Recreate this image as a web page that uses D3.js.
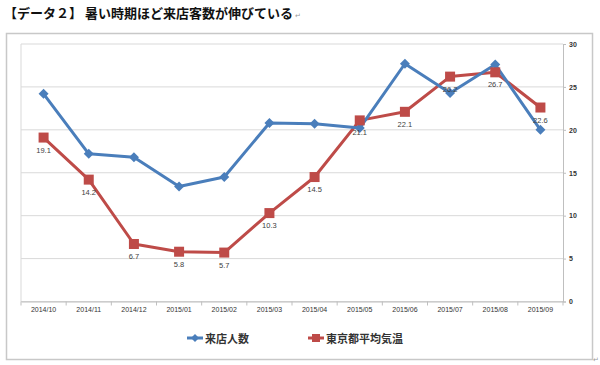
<!DOCTYPE html>
<html><head><meta charset="utf-8">
<script src="https://cdn.jsdelivr.net/npm/d3@7"></script>
<style>body{margin:0;background:#fff;}svg{display:block;}</style>
</head><body>
<svg id="c" width="600" height="365"></svg>
<script>
const title = "【データ２】 暑い時期ほど来店客数が伸びている";
const categories = ["2014/10","2014/11","2014/12","2015/01","2015/02","2015/03","2015/04","2015/05","2015/06","2015/07","2015/08","2015/09"];
const visitors = [24.2,17.2,16.8,13.4,14.5,20.8,20.7,20.2,27.7,24.3,27.6,20.0];
const temperature = [19.1,14.2,6.7,5.8,5.7,10.3,14.5,21.1,22.1,26.2,26.7,22.6];
const yTicks = [0,5,10,15,20,25,30];
const seriesNames = ["来店人数","東京都平均気温"];

const svg = d3.select("#c");
const font = "'Noto Sans CJK JP','Noto Sans',sans-serif";
const blue = "#4A7EBB", red = "#BE4B48";

// title
const tt = svg.append("text").attr("x",4).attr("y",18).attr("font-family",font).attr("font-weight","bold")
  .attr("font-size",13).attr("fill","#111").text(title);
const tw = tt.node().getComputedTextLength();
svg.append("text").attr("x",4+tw+2).attr("y",18).attr("font-family",font).attr("font-size",7).attr("fill","#999").text("↵");

// frame
svg.append("rect").attr("x",6.5).attr("y",33.5).attr("width",586).attr("height",326)
  .attr("fill","#fff").attr("stroke","#c8c8c8").attr("stroke-width",1.5);
svg.append("text").attr("x",593).attr("y",362).attr("font-family",font).attr("font-size",7).attr("fill","#999").text("↵");

const L=21, R=563, T=44, B=301.5;
const x = d3.scaleBand().domain(categories).range([L,R]);
const y = d3.scaleLinear().domain([0,30]).range([B,T]);

// gridlines
svg.append("g").selectAll("line").data(yTicks).join("line")
  .attr("x1",L).attr("x2",R).attr("y1",d=>y(d)).attr("y2",d=>y(d))
  .attr("stroke","#d9d9d9").attr("stroke-width",1);
svg.append("line").attr("x1",L).attr("x2",L).attr("y1",T).attr("y2",B).attr("stroke","#d9d9d9");

// x axis
const xa = svg.append("g").attr("transform",`translate(0,${B})`)
  .call(d3.axisBottom(x).tickSize(0).tickPadding(6));
xa.select(".domain").attr("stroke","#bfbfbf");
xa.selectAll("text").attr("font-family","'Liberation Sans',Arial,sans-serif").attr("font-size",7).attr("fill","#333");
// boundary ticks
svg.append("g").selectAll("line").data(categories.concat(["_end"])).join("line")
  .attr("x1",(d,i)=>L+i*x.step()).attr("x2",(d,i)=>L+i*x.step())
  .attr("y1",B).attr("y2",B+4).attr("stroke","#bfbfbf");

// y axis right
const ya = svg.append("g").attr("transform",`translate(${R},0)`)
  .call(d3.axisRight(y).tickValues(yTicks).tickSize(3).tickPadding(3));
ya.select(".domain").attr("stroke","#bfbfbf");
ya.selectAll(".tick line").attr("stroke","#bfbfbf");
ya.selectAll("text").attr("font-family","'Liberation Sans',Arial,sans-serif").attr("font-size",7)
  .attr("font-weight","bold").attr("fill","#333");

const cx = d => x(d)+x.bandwidth()/2;
const line = d3.line().x((d,i)=>cx(categories[i])).y(d=>y(d));

// temperature series
svg.append("path").datum(temperature).attr("d",line).attr("fill","none").attr("stroke",red).attr("stroke-width",3).attr("stroke-linejoin","round");
// visitors series
svg.append("path").datum(visitors).attr("d",line).attr("fill","none").attr("stroke",blue).attr("stroke-width",3).attr("stroke-linejoin","round");

svg.append("g").selectAll("path").data(visitors).join("path")
  .attr("transform",(d,i)=>`translate(${cx(categories[i])},${y(d)})`)
  .attr("d","M0,-5L5,0L0,5L-5,0Z").attr("fill",blue);

svg.append("g").selectAll("rect").data(temperature).join("rect")
  .attr("x",(d,i)=>cx(categories[i])-5).attr("y",d=>y(d)-5).attr("width",10).attr("height",10).attr("fill",red);

// labels
svg.append("g").selectAll("text").data(temperature).join("text")
  .attr("x",(d,i)=>cx(categories[i])).attr("y",d=>y(d)+15)
  .attr("text-anchor","middle").attr("font-family","'Liberation Sans',Arial,sans-serif")
  .attr("font-size",7.5).attr("fill","#404040").text(d=>d.toFixed(1));

// legend
const lg = svg.append("g");
lg.append("line").attr("x1",187).attr("x2",203).attr("y1",338).attr("y2",338).attr("stroke",blue).attr("stroke-width",3);
lg.append("path").attr("transform","translate(195,338)").attr("d","M0,-4L4,0L0,4L-4,0Z").attr("fill",blue);
lg.append("text").attr("x",205).attr("y",342.5).attr("font-family",font).attr("font-weight","bold").attr("font-size",11).attr("fill","#333").text(seriesNames[0]);
lg.append("line").attr("x1",308).attr("x2",324).attr("y1",338).attr("y2",338).attr("stroke",red).attr("stroke-width",3);
lg.append("rect").attr("x",312).attr("y",334).attr("width",8).attr("height",8).attr("fill",red);
lg.append("text").attr("x",326).attr("y",342.5).attr("font-family",font).attr("font-weight","bold").attr("font-size",11).attr("fill","#333").text(seriesNames[1]);
</script>
</body></html>
